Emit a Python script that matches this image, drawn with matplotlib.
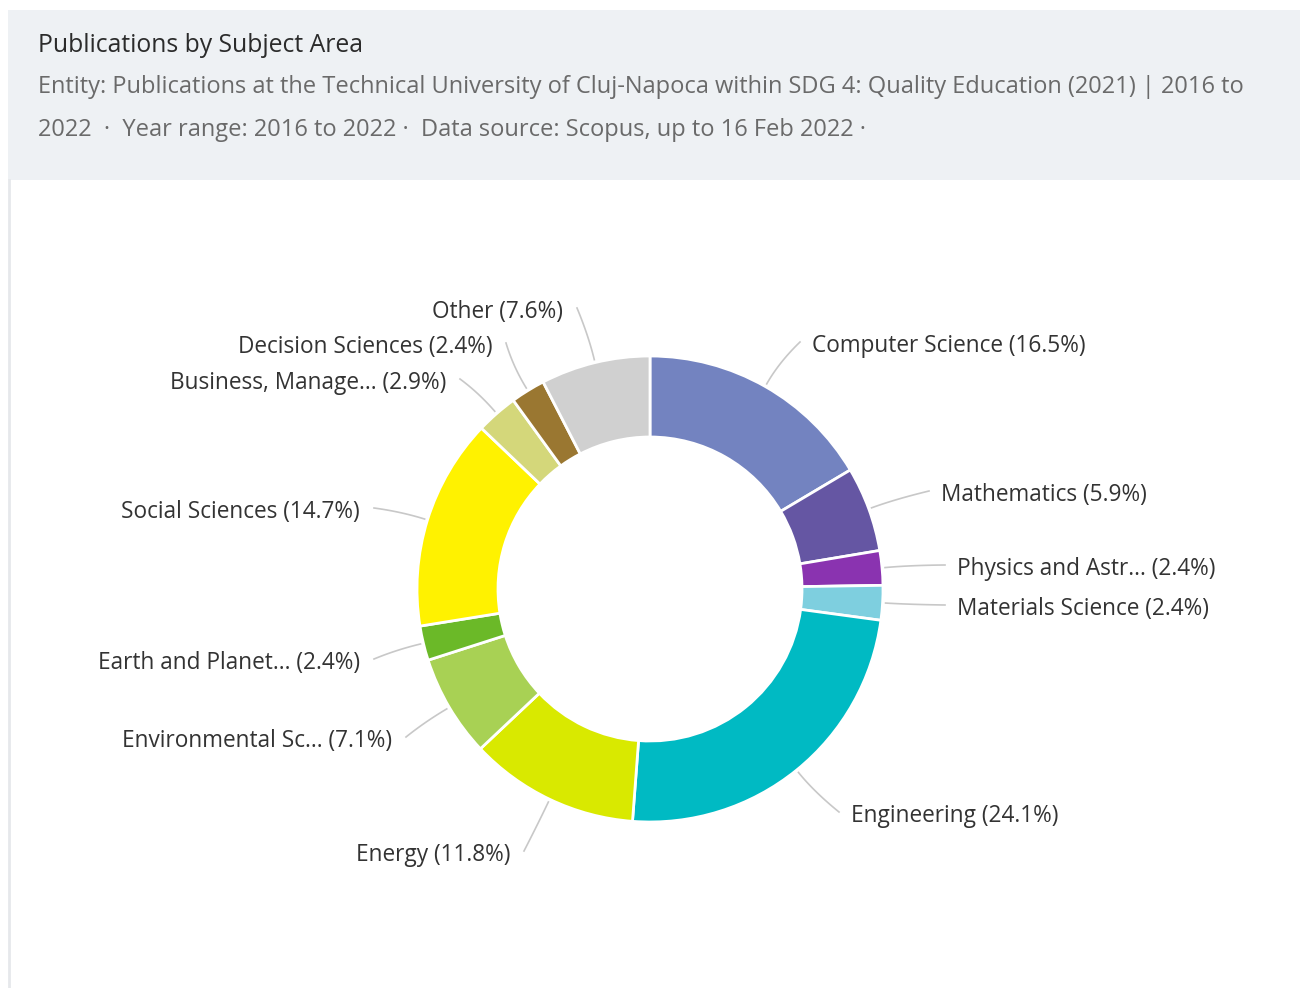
import numpy as np
import matplotlib
matplotlib.use("Agg")
import matplotlib.pyplot as plt
from matplotlib.patches import Rectangle

# Data (clockwise from 12 o'clock)
subjects = ["Computer Science", "Mathematics", "Physics and Astr...", "Materials Science",
            "Engineering", "Energy", "Environmental Sc...", "Earth and Planet...",
            "Social Sciences", "Business, Manage...", "Decision Sciences", "Other"]
shares = [16.5, 5.9, 2.4, 2.4, 24.1, 11.8, 7.1, 2.4, 14.7, 2.9, 2.4, 7.6]
colors = ["#7383c0", "#6556a3", "#8a33b0", "#7ecfdf", "#00bac3", "#d9e900",
          "#a8d154", "#6bb928", "#fff200", "#d4d77a", "#9a7731", "#d0d0d0"]

title = "Publications by Subject Area"
subtitle_1 = ("Entity: Publications at the Technical University of Cluj-Napoca within "
              "SDG 4: Quality Education (2021) | 2016 to")
subtitle_2 = "2022  \u00b7  Year range: 2016 to 2022 \u00b7  Data source: Scopus, up to 16 Feb 2022 \u00b7"

# label layout in pixel coords (text anchor x, y); left side labels are right aligned
label_pos = [(812, 346), (941, 495), (957, 569), (957, 609), (851, 816), (510, 855),
             (392, 741), (360, 663), (360, 512), (446, 383), (492, 347), (563, 312)]

W, H = 1300, 988
FONT = "Open Sans"

fig = plt.figure(figsize=(W / 100, H / 100), dpi=100)
ax = fig.add_axes([0, 0, 1, 1])


def py(y):
    # pixel y (top-down) -> data y
    return H - y


cx, cy = 650, py(589)
r_out, r_in = 233, 152

# header band and left border of the card
ax.add_patch(Rectangle((8, py(180)), W - 8, 170, facecolor="#eef1f4", edgecolor="none"))
ax.plot([9, 9], [py(180), 0], color="#e6e8eb", lw=2)

ax.text(38, py(46), title, fontsize=17.8, color="#2b2b2b", family=FONT, va="center")
ax.text(38, py(87), subtitle_1, fontsize=17, color="#6a6a6a", family=FONT, va="center")
ax.text(38, py(130), subtitle_2, fontsize=17, color="#6a6a6a", family=FONT, va="center")

wedges, _ = ax.pie(shares, colors=colors, startangle=90, counterclock=False,
                   center=(cx, cy), radius=r_out,
                   wedgeprops=dict(width=r_out - r_in, edgecolor="white", linewidth=2))

t = np.linspace(0, 1, 30)[:, None]
for w, name, val, (lx, ly) in zip(wedges, subjects, shares, label_pos):
    mid = np.deg2rad((w.theta1 + w.theta2) / 2)
    d = np.array([np.cos(mid), np.sin(mid)])
    right = d[0] >= 0
    ax.text(lx, py(ly), f"{name} ({val}%)", ha="left" if right else "right", va="center",
            fontsize=16.3, color="#333333", family=FONT)
    # curved leader line: out of the slice, bending toward the label
    p0 = np.array([cx, cy]) + (r_out + 3) * d
    p1 = np.array([cx, cy]) + (r_out + 28) * d
    p2 = np.array([lx + (-12 if right else 14), py(ly - 4)])
    curve = (1 - t) ** 2 * p0 + 2 * (1 - t) * t * p1 + t ** 2 * p2
    ax.plot(curve[:, 0], curve[:, 1], color="#c8c8c8", lw=1.2)

ax.set_xlim(0, W)
ax.set_ylim(0, H)
ax.set_aspect("auto")
ax.axis("off")

fig.savefig("out.png", dpi=100, facecolor="white")
